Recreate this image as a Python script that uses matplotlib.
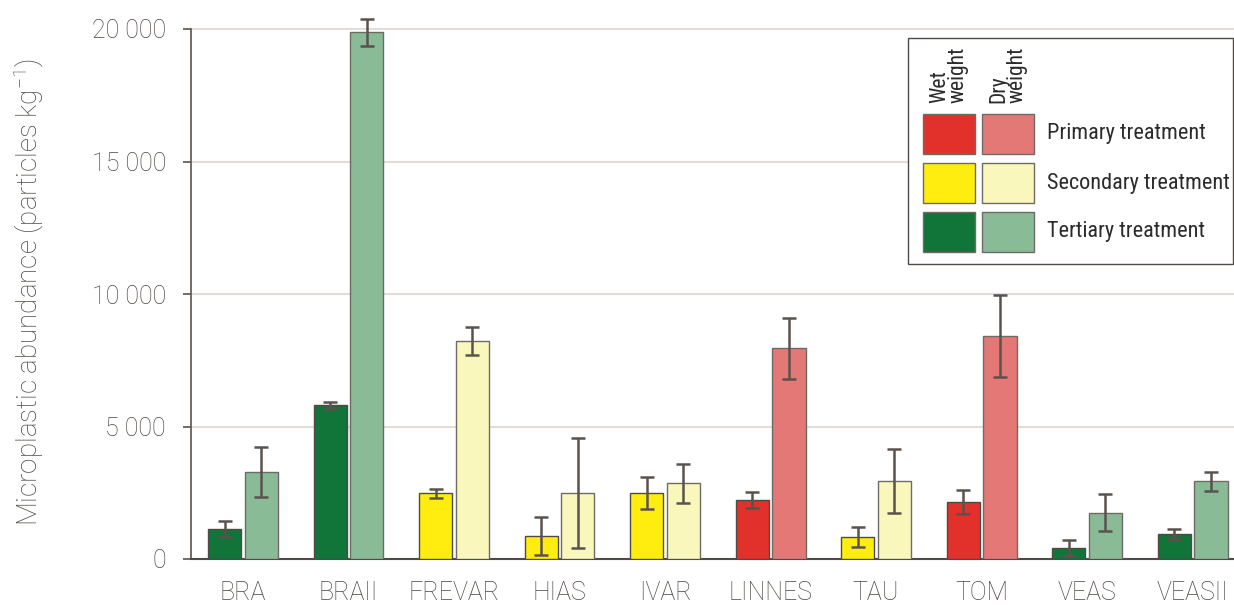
import matplotlib
matplotlib.use("Agg")
import matplotlib.pyplot as plt
from matplotlib.patches import Rectangle
import numpy as np

# Plant names along the x axis
plants = ["BRA", "BRAII", "FREVAR", "HIAS", "IVAR", "LINNES", "TAU", "TOM", "VEAS", "VEASII"]
# Treatment level of each plant: 0 primary, 1 secondary, 2 tertiary
treatment = [2, 2, 1, 1, 1, 0, 1, 0, 2, 2]

# Mean abundance (particles per kg) and standard deviation
wet_mean = [1130, 5800, 2490, 870, 2490, 2230, 830, 2150, 420, 940]
wet_err = [300, 130, 170, 730, 600, 290, 360, 450, 300, 190]
dry_mean = [3280, 19880, 8230, 2490, 2860, 7960, 2940, 8420, 1740, 2940]
dry_err = [950, 510, 520, 2090, 735, 1150, 1200, 1560, 700, 360]

treatment_names = ["Primary treatment", "Secondary treatment", "Tertiary treatment"]
wet_colors = ["#E2312B", "#FFED0F", "#117438"]
dry_colors = ["#E47877", "#FAF7BD", "#89BC96"]

yticks = [0, 5000, 10000, 15000, 20000]
ytick_labels = ["0", "5 000", "10 000", "15 000", "20 000"]

TEXT = "#4d4541"
LIGHT = ["Roboto", "DejaVu Sans"]
NARROW = ["Liberation Sans Narrow", "Roboto Condensed", "Roboto", "DejaVu Sans"]

plt.rcParams["mathtext.fontset"] = "custom"
plt.rcParams["mathtext.rm"] = "Roboto:light"
plt.rcParams["mathtext.it"] = "Roboto:light"

W, H = 1234, 605
fig = plt.figure(figsize=(W / 100, H / 100), dpi=100)
ax = fig.add_axes([191 / W, 46 / H, 1043 / W, 556.5 / H])

x = np.arange(len(plants))
bw = 0.313
off = 0.175
wc = [wet_colors[t] for t in treatment]
dc = [dry_colors[t] for t in treatment]

err_kw = dict(ecolor="#5a524d", elinewidth=1.8, capsize=4.7, capthick=1.8)
ax.bar(x - off, wet_mean, bw, color=wc, edgecolor="#4f4a46", linewidth=1.0,
       yerr=wet_err, error_kw=err_kw, zorder=3)
ax.bar(x + off, dry_mean, bw, color=dc, edgecolor="#6e6a66", linewidth=1.0,
       yerr=dry_err, error_kw=err_kw, zorder=3)

ax.set_xlim(-0.493, 9.393)
ax.set_ylim(0, 21000)
ax.set_yticks(yticks)
ax.set_yticklabels(ytick_labels)
ax.set_xticks(x)
ax.set_xticklabels(plants)

for yv in yticks[1:]:
    ax.axhline(yv, color="#e2ddd9", linewidth=1.5, zorder=1)

for s in ["top", "right"]:
    ax.spines[s].set_visible(False)
ax.spines["left"].set_bounds(0, 20000)
ax.spines["left"].set_color("#5b534e")
ax.spines["left"].set_linewidth(1.2)
ax.spines["bottom"].set_color("#4f4a46")
ax.spines["bottom"].set_linewidth(1.5)

ax.tick_params(axis="y", length=6, width=1.2, color="#5b534e", pad=12,
               labelsize=18, labelcolor=TEXT)
ax.tick_params(axis="x", length=0, pad=16, labelsize=18, labelcolor=TEXT)
for lab in ax.get_xticklabels() + ax.get_yticklabels():
    lab.set_family(LIGHT)
    lab.set_fontweight("light")

fig.text(29 / W, 1 - 292 / H, r"Microplastic abundance (particles kg$^{-1}$)",
         rotation=90, ha="center", va="center", fontsize=20, color=TEXT,
         family=LIGHT, fontweight="light")

# Legend panel drawn in figure pixels
def fx(px):
    return px / W

def fy(py):
    return 1 - py / H

fig.patches.append(Rectangle((fx(908), fy(264)), fx(1233) - fx(908), fy(38) - fy(264),
                             transform=fig.transFigure, facecolor="white",
                             edgecolor="#4f4a46", linewidth=1.0, zorder=5))
rows = [(114, 154), (163, 203), (212, 252)]
for i, (top, bot) in enumerate(rows):
    for (l, r), col in [((923, 975), wet_colors[i]), ((982, 1034), dry_colors[i])]:
        fig.patches.append(Rectangle((fx(l), fy(bot)), fx(r) - fx(l), fy(top) - fy(bot),
                                     transform=fig.transFigure, facecolor=col,
                                     edgecolor="#6e6a66", linewidth=1.0, zorder=6))
    fig.text(fx(1047), fy((top + bot) / 2), treatment_names[i], ha="left", va="center",
             fontsize=16, color="#2b2b2b", family=NARROW, zorder=7)

for cx, txt in [(949, "Wet\nweight"), (1008, "Dry\nweight")]:
    fig.text(fx(cx), fy(103), txt, rotation=90, ha="center", va="bottom",
             multialignment="left", linespacing=0.85, fontsize=15.5,
             color="#2b2b2b", family=NARROW, zorder=7)

fig.savefig("out.png", dpi=100)
